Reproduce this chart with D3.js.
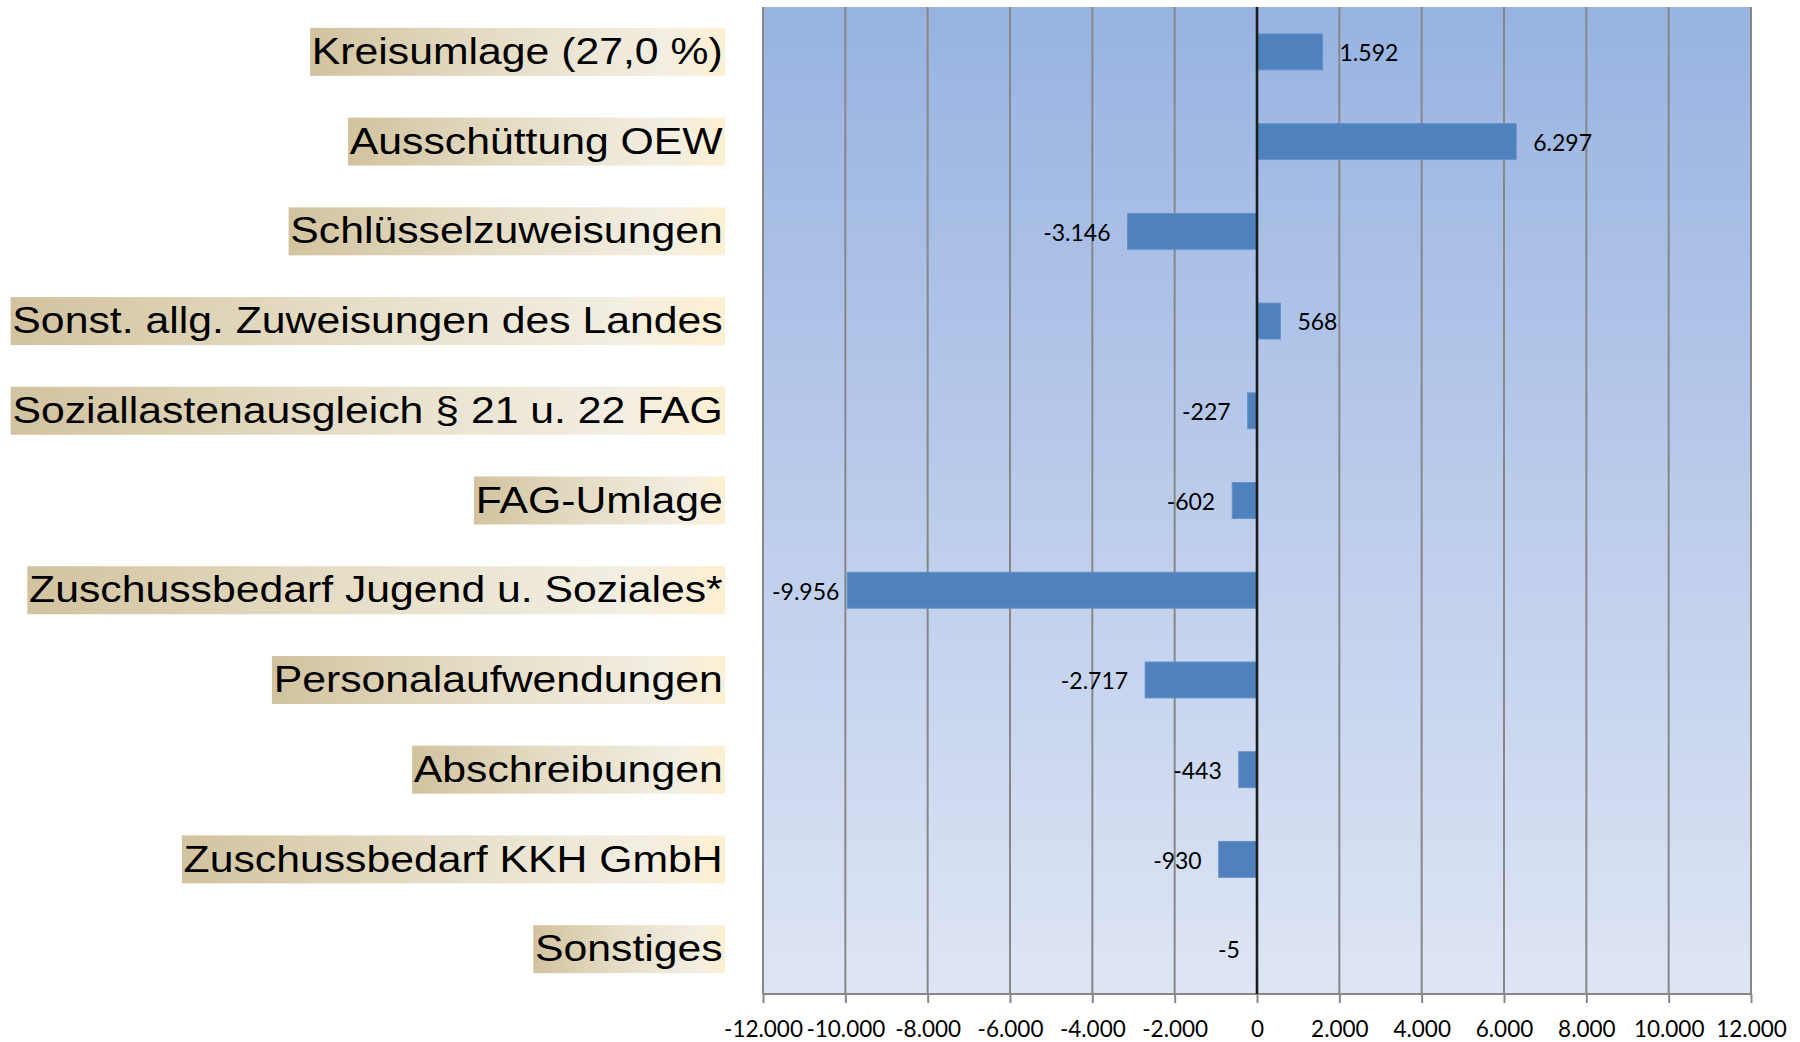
<!DOCTYPE html>
<html lang="de">
<head>
<meta charset="UTF-8">
<title>Veränderungen</title>
<script src="https://d3js.org/d3.v7.min.js"></script>
<style>
  body { margin: 0; background: #fff; }
  svg { display: block; }
</style>
</head>
<body>
<div id="chart"></div>
<script>
// data
var categories = [
  "Kreisumlage (27,0 %)",
  "Ausschüttung OEW",
  "Schlüsselzuweisungen",
  "Sonst. allg. Zuweisungen des Landes",
  "Soziallastenausgleich § 21 u. 22 FAG",
  "FAG-Umlage",
  "Zuschussbedarf Jugend u. Soziales*",
  "Personalaufwendungen",
  "Abschreibungen",
  "Zuschussbedarf KKH GmbH",
  "Sonstiges"
];
var values = [1592, 6297, -3146, 568, -227, -602, -9956, -2717, -443, -930, -5];
var tickValues = [-12000, -10000, -8000, -6000, -4000, -2000, 0, 2000, 4000, 6000, 8000, 10000, 12000];

var W = 1800, H = 1042;
var plot = {left: 763, right: 1751, top: 7, bottom: 994};

// german number format: 1.592, -9.956
var de = d3.formatLocale({decimal: ",", thousands: ".", grouping: [3], currency: ["", " €"], minus: "-"});
var fmt = de.format(",d");

var svg = d3.select("#chart").append("svg")
  .attr("width", W)
  .attr("height", H);

var defs = svg.append("defs");

var bg = defs.append("linearGradient")
  .attr("id", "plotBg")
  .attr("x1", 0).attr("y1", 0).attr("x2", 0).attr("y2", 1);
bg.append("stop").attr("offset", 0).attr("stop-color", "#98b3e1");
bg.append("stop").attr("offset", 1).attr("stop-color", "#dee5f5");

var lab = defs.append("linearGradient")
  .attr("id", "labelBg")
  .attr("x1", 0).attr("y1", 0).attr("x2", 1).attr("y2", 0);
lab.append("stop").attr("offset", 0).attr("stop-color", "#d2c39f");
lab.append("stop").attr("offset", 0.45).attr("stop-color", "#e5ddc6");
lab.append("stop").attr("offset", 0.85).attr("stop-color", "#f2eee2");
lab.append("stop").attr("offset", 1).attr("stop-color", "#fdf0d2");

// scales
var x = d3.scaleLinear()
  .domain([-12000, 12000])
  .range([plot.left, plot.right]);

var y = d3.scaleBand()
  .domain(categories)
  .range([plot.top, plot.bottom]);

var bw = y.bandwidth();

// plot area background
svg.append("rect")
  .attr("x", plot.left)
  .attr("y", plot.top)
  .attr("width", plot.right - plot.left)
  .attr("height", plot.bottom - plot.top)
  .attr("fill", "url(#plotBg)");

// vertical gridlines
svg.append("g")
  .selectAll("line")
  .data(tickValues.filter(function(d) { return d !== 0; }))
  .enter()
  .append("line")
    .attr("x1", function(d) { return x(d); })
    .attr("x2", function(d) { return x(d); })
    .attr("y1", plot.top)
    .attr("y2", plot.bottom)
    .attr("stroke", "#878787")
    .attr("stroke-width", 2);

// x axis
var xAxis = svg.append("g")
  .attr("transform", "translate(0," + plot.bottom + ")")
  .call(d3.axisBottom(x).tickValues(tickValues).tickSize(9).tickPadding(18).tickFormat(fmt));
xAxis.select(".domain")
  .attr("stroke", "#878787")
  .attr("stroke-width", 2)
  .attr("d", "M" + plot.left + ",0H" + plot.right);
xAxis.selectAll(".tick line")
  .attr("stroke", "#878787")
  .attr("stroke-width", 2);
xAxis.selectAll(".tick text")
  .attr("fill", "#000")
  .style("font-family", "Lato, 'Open Sans', sans-serif")
  .style("font-size", "22.5px");

// bars
svg.append("g")
  .selectAll("rect")
  .data(values)
  .enter()
  .append("rect")
    .attr("x", function(d) { return x(Math.min(0, d)); })
    .attr("y", function(d, i) { return y(categories[i]) + bw * 0.3; })
    .attr("width", function(d) { return Math.abs(x(d) - x(0)); })
    .attr("height", bw * 0.4)
    .attr("fill", "#4f81bd")
    .attr("stroke", "#6391c8")
    .attr("stroke-width", 1);

// zero line
svg.append("line")
  .attr("x1", x(0)).attr("x2", x(0))
  .attr("y1", plot.top).attr("y2", plot.bottom)
  .attr("stroke", "#1c1c1c")
  .attr("stroke-width", 2.6);

// value labels (kept inside the plot area like Excel does)
svg.append("g")
  .selectAll("text")
  .data(values)
  .enter()
  .append("text")
    .attr("y", function(d, i) { return y(categories[i]) + bw / 2 + 1; })
    .attr("dy", "0.36em")
    .attr("text-anchor", "start")
    .style("font-family", "Lato, 'Open Sans', sans-serif")
    .style("font-size", "23px")
    .attr("fill", "#000")
    .text(function(d) { return fmt(d); })
    .attr("x", function(d) {
      if (d >= 0) return x(d) + 17;
      var w = this.getComputedTextLength();
      return Math.max(x(d) - 17 - w, plot.left + 9);
    });

// category labels with beige gradient boxes (text is drawn a bit wider)
var labelRight = 725;
var stretch = 1.155;
var labels = svg.append("g")
  .selectAll("g")
  .data(categories)
  .enter()
  .append("g")
    .attr("transform", function(d) {
      return "translate(" + labelRight + "," + (y(d) + bw / 2) + ") scale(" + stretch + ",1)";
    });

labels.append("rect").attr("class", "box");
labels.append("text")
  .attr("x", -2)
  .attr("y", 1)
  .attr("dy", "0.3em")
  .attr("text-anchor", "end")
  .style("font-family", "'Liberation Sans', Arial, sans-serif")
  .style("font-size", "37px")
  .attr("fill", "#000")
  .text(function(d) { return d; });

labels.each(function() {
  var g = d3.select(this);
  var bb = g.select("text").node().getBBox();
  g.select("rect.box")
    .attr("x", bb.x - 1.5)
    .attr("y", -24)
    .attr("width", -bb.x + 1.5)
    .attr("height", 48)
    .attr("fill", "url(#labelBg)");
});
</script>
</body>
</html>
